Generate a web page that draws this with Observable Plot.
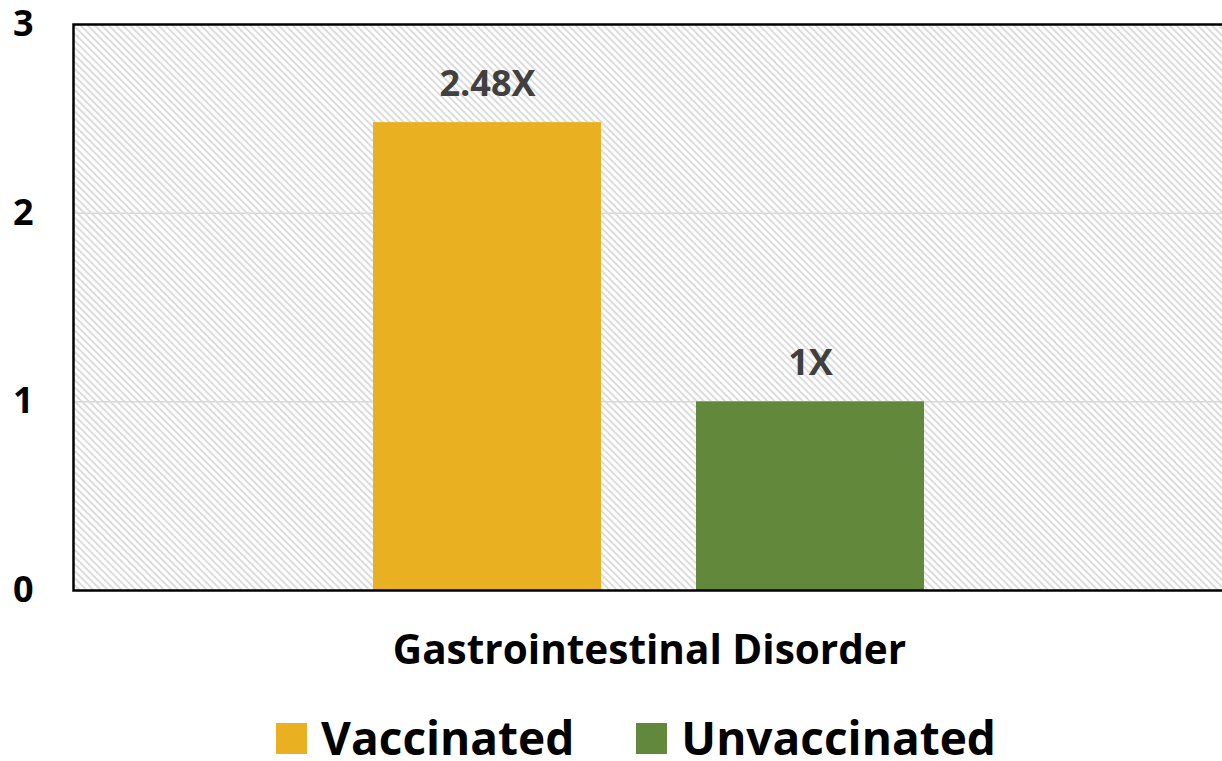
<!DOCTYPE html>
<html>
<head>
<meta charset="utf-8">
<script src="https://cdn.jsdelivr.net/npm/d3@7"></script>
<script src="https://cdn.jsdelivr.net/npm/@observablehq/plot@0.6"></script>
<style>
  html, body { margin: 0; padding: 0; background: white; overflow: hidden; }
  #legend { height: 93px; display: flex; align-items: center; justify-content: center;
    padding-left: 50px; box-sizing: border-box; font-family: 'Open Sans', sans-serif; font-weight: 700;
    font-size: 46px; line-height: 1; color: #000; }
  .item { display: flex; align-items: center; margin: 0 31px; }
  .sw { width: 31px; height: 31px; margin-right: 14px; margin-top: 4px; }
</style>
</head>
<body>
<div id="chart"></div>
<div id="legend"></div>
<script>
const category = "Gastrointestinal Disorder";
const groups = ["Vaccinated", "Unvaccinated"];
const values = [2.48, 1];
const valueLabels = ["2.48X", "1X"];
const yTicks = [0, 1, 2, 3];
const colors = ["#E9B121", "#62883B"];

const data = groups.map((g, i) => ({cat: category, group: g, value: values[i], label: valueLabels[i]}));

const chart = Plot.plot({
  width: 1222,
  height: 690,
  marginTop: 24,
  marginLeft: 73,
  marginRight: -3,
  marginBottom: 100,
  style: {fontFamily: "'Open Sans', sans-serif", color: "#000"},
  fx: {domain: [category], padding: 0, label: null},
  x: {domain: groups, paddingInner: 0.294, paddingOuter: 0.926, axis: null},
  y: {domain: [0, 3], label: null},
  color: {domain: groups, range: colors},
  marks: [
    Plot.frame({fill: "url(#hatch)", stroke: "none"}),
    Plot.gridY([1, 2], {stroke: "#d9d9d9", strokeOpacity: 1, strokeWidth: 1.5}),
    Plot.barY(data, {fx: "cat", x: "group", y: "value", fill: "group"}),
    Plot.text(data, {fx: "cat", x: "group", y: "value", text: "label", dy: -38,
      fontSize: 36, fontWeight: "bold", fill: "#404040"}),
    Plot.axisY({ticks: yTicks, tickSize: 0, tickPadding: 40, fontSize: 36, fontWeight: "bold",
      label: null, tickFormat: d => String(d)}),
    Plot.axisFx({anchor: "bottom", tickSize: 0, tickPadding: 45, fontSize: 40.5, fontWeight: "bold", label: null}),
    Plot.frame({stroke: "#000", strokeWidth: 2.5, fill: "none"})
  ]
});

const svg = d3.select(chart);
const defs = svg.insert("defs", ":first-child");
const pat = defs.append("pattern")
  .attr("id", "hatch")
  .attr("patternUnits", "userSpaceOnUse")
  .attr("width", 5).attr("height", 5)
  .attr("patternTransform", "rotate(45)");
pat.append("rect").attr("width", 5).attr("height", 5).attr("fill", "#ffffff");
pat.append("rect").attr("width", 5).attr("height", 2).attr("fill", "#dcdcdc");

document.getElementById("chart").appendChild(chart);

const legend = d3.select("#legend");
groups.forEach((g, i) => {
  const item = legend.append("div").attr("class", "item");
  item.append("div").attr("class", "sw").style("background", colors[i]);
  item.append("span").text(g);
});
</script>
</body>
</html>
